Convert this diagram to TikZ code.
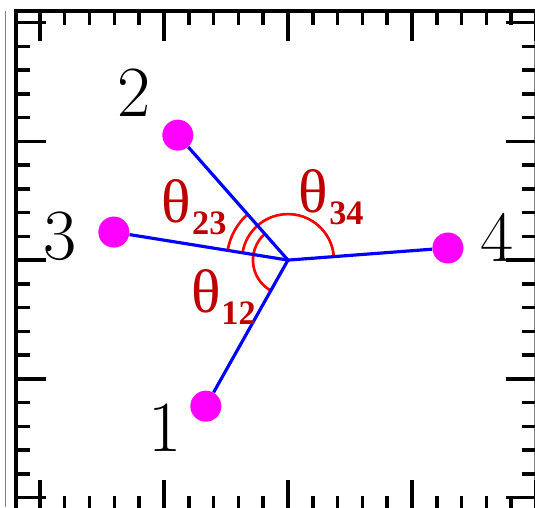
\documentclass[tikz,border=0pt]{standalone}
\usepackage{fontspec}
\newfontfamily\thetafont{Liberation Serif}
\definecolor{angred}{RGB}{190,0,0}
\definecolor{sitepink}{RGB}{255,0,255}
\newcommand{\angl}[1]{{\thetafont θ\kern0.5pt\raisebox{-7pt}{\fontsize{19.5}{19.5}\selectfont\bfseries #1}}}

\begin{document}
\begin{tikzpicture}[x=4.96cm, y=4.75cm,
    frame/.style={line width=2.3pt},
    tick/.style={line width=2pt},
    arm/.style={blue, line width=1.8pt},
    site/.style={circle, fill=sitepink, minimum size=0.62cm, inner sep=0pt},
    num/.style={inner sep=0pt, font=\fontsize{41}{41}\selectfont},
    angarc/.style={red, line width=1.5pt},
    anglbl/.style={inner sep=0pt, anchor=base west, text=angred, font=\fontsize{35}{35}\selectfont}]

% Window
\clip (-1.161,1.095) rectangle (0.996,-1.04);
\draw[gray, very thin] (-1.141,1.05) -- (-1.141,-1.04);
\draw[gray, thin] (0.992,1.05) -- (0.992,-1.04);
\draw[frame] (-1.097,-1.1) -- (-1.097,1.05) -- (0.995,1.05);

% Ticks
\foreach \i in {-10,...,10}{
    \pgfmathsetmacro{\t}{\i/10}
    \pgfmathsetmacro{\len}{mod(\i,5)==0 ? 0.6 : 0.28}
    \draw[tick] (\t,1.05) -- ++(0,-\len cm);
    \draw[tick] (\t,-1.05) -- ++(0,\len cm);
    \draw[tick] (-1.097,\t) -- ++(\len cm,0);
    \draw[tick] (1.0,\t) -- ++(-\len cm,0);
}

% Sites
\coordinate (c) at (0,0);
\node[site] (s1) at (-0.331,-0.615) {};
\node[site] (s2) at (-0.444,0.526) {};
\node[site] (s3) at (-0.702,0.118) {};
\node[site] (s4) at (0.645,0.051) {};

% Angles
\draw[angarc] (c) ++(131.3:0.70cm) arc[start angle=131.3, end angle=240.9, radius=0.70cm];
\draw[angarc] (c) ++(131.3:1.22cm) arc[start angle=131.3, end angle=171.0, radius=1.22cm];
\draw[angarc] (c) ++(4.1:0.92cm) arc[start angle=4.1, end angle=171.0, radius=0.92cm];

% Arms
\foreach \s in {s1,s2,s3,s4}
    \draw[arm] (c) -- (\s);

% Labels
\node[num] (n1) at (-0.496,-0.707) {1};
\node[num] (n2) at (-0.621,0.703) {2};
\node[num] (n3) at (-0.919,0.101) {3};
\node[num] (n4) at (0.843,0.097) {4};

\node[anglbl] (t23) at (-0.51,0.16) {\angl{23}};
\node[anglbl] (t34) at (0.043,0.202) {\angl{34}};
\node[anglbl] (t12) at (-0.392,-0.219) {\angl{12}};

\end{tikzpicture}
\end{document}
